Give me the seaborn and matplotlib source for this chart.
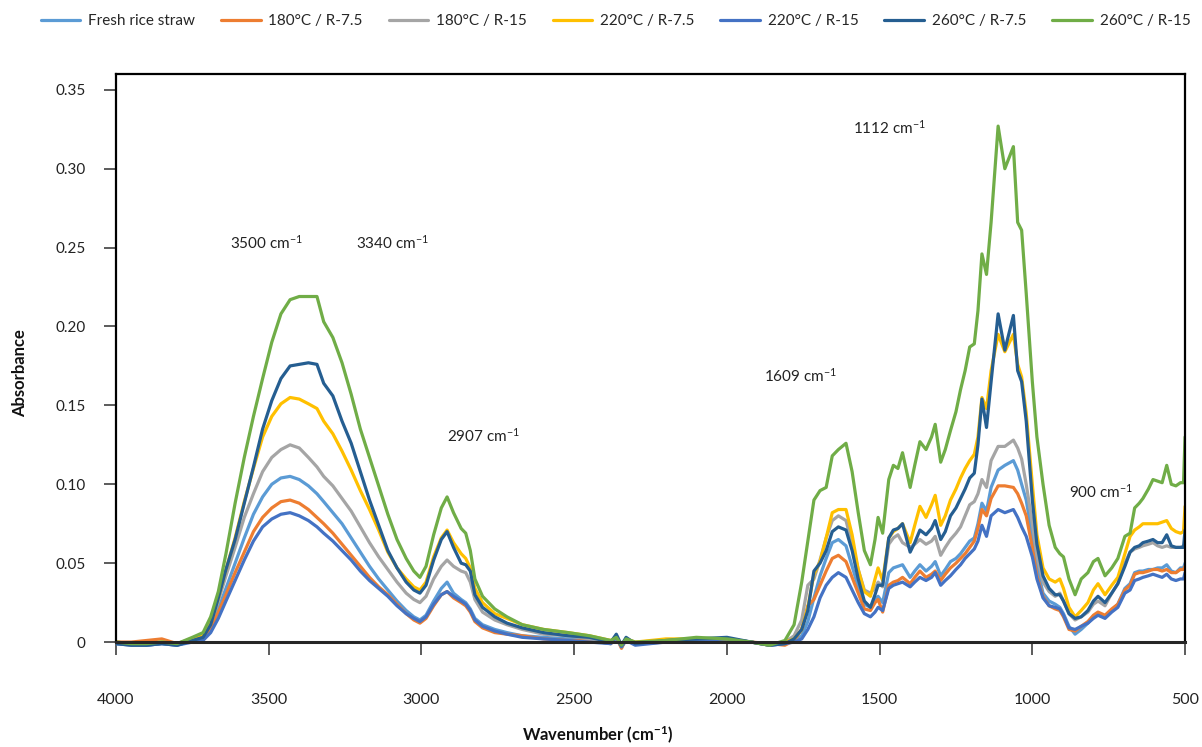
import matplotlib
matplotlib.use('Agg')
import matplotlib.pyplot as plt
import numpy as np
import pandas as pd
import seaborn as sns
from matplotlib.lines import Line2D
from matplotlib.ticker import FixedLocator, FuncFormatter

# wavenumber grid (cm-1)
wn = [4000, 3950, 3900, 3850, 3800, 3750,
      3715, 3690, 3665, 3640, 3610, 3580, 3550, 3520, 3490, 3460,
      3430, 3400, 3370, 3342, 3320, 3290, 3260, 3230, 3200, 3170, 3140, 3110, 3080, 3050, 3025, 3005,
      2985, 2960, 2935, 2916, 2895, 2870, 2855, 2840, 2825, 2800, 2760, 2720, 2670, 2600, 2520, 2450,
      2380, 2362, 2345, 2330, 2300, 2200, 2100, 2000, 1920, 1860, 1810,
      1780, 1755, 1735, 1715, 1695, 1675, 1655, 1635, 1610, 1590,
      1570, 1550, 1530, 1515, 1505, 1490, 1470, 1455, 1440, 1425,
      1400, 1385, 1368, 1348, 1330, 1318, 1300, 1285, 1268, 1250,
      1235, 1220, 1205, 1190, 1178, 1165, 1150, 1135, 1112, 1090,
      1062, 1048, 1035, 1020, 1000, 985, 965, 945, 925, 910,
      898, 880, 860, 840, 818, 800, 785, 762, 740, 720,
      697, 680, 665, 650, 638, 620, 605, 590, 575, 560,
      545, 530, 515, 505, 500]

fresh = [-0.001, -0.001, -0.002, -0.001, -0.002, 0.001,
         0.002, 0.009, 0.021, 0.034, 0.050, 0.066, 0.081, 0.092, 0.100, 0.104,
         0.105, 0.103, 0.099, 0.094, 0.089, 0.082, 0.075, 0.066, 0.057, 0.048, 0.040, 0.033, 0.026, 0.020, 0.016, 0.014,
         0.017, 0.026, 0.034, 0.038, 0.031, 0.027, 0.025, 0.021, 0.015, 0.011, 0.008, 0.006, 0.004, 0.003, 0.002, 0.001,
         -0.001, 0.004, -0.003, 0.002, -0.001, 0.000, 0.001, 0.002, 0.000, -0.002, -0.001,
         0.001, 0.004, 0.013, 0.028, 0.042, 0.053, 0.063, 0.065, 0.061, 0.048,
         0.035, 0.024, 0.022, 0.027, 0.029, 0.025, 0.044, 0.047, 0.048, 0.049,
         0.041, 0.045, 0.049, 0.045, 0.048, 0.051, 0.042, 0.046, 0.051, 0.053,
         0.056, 0.060, 0.064, 0.066, 0.075, 0.088, 0.083, 0.098, 0.109, 0.112,
         0.115, 0.109, 0.100, 0.090, 0.067, 0.048, 0.031, 0.026, 0.024, 0.022,
         0.018, 0.010, 0.005, 0.008, 0.012, 0.016, 0.018, 0.016, 0.020, 0.024,
         0.034, 0.037, 0.044, 0.045, 0.045, 0.046, 0.046, 0.047, 0.047, 0.049,
         0.045, 0.044, 0.047, 0.047, 0.050]

t180_r75 = [0.000, 0.000, 0.001, 0.002, -0.001, 0.002,
            0.003, 0.009, 0.019, 0.030, 0.044, 0.057, 0.070, 0.079, 0.085, 0.089,
            0.090, 0.088, 0.084, 0.079, 0.075, 0.069, 0.062, 0.055, 0.048, 0.041, 0.035, 0.030, 0.024, 0.018, 0.014, 0.012,
            0.015, 0.023, 0.030, 0.032, 0.028, 0.025, 0.023, 0.019, 0.013, 0.009, 0.006, 0.005, 0.004, 0.002, 0.001, 0.001,
            -0.001, 0.003, -0.004, 0.002, -0.001, 0.000, 0.001, 0.001, 0.000, -0.001, -0.002,
            0.001, 0.008, 0.023, 0.027, 0.036, 0.045, 0.053, 0.055, 0.051, 0.041,
            0.031, 0.021, 0.020, 0.025, 0.027, 0.019, 0.036, 0.038, 0.039, 0.041,
            0.037, 0.041, 0.045, 0.041, 0.043, 0.045, 0.039, 0.043, 0.047, 0.050,
            0.053, 0.056, 0.060, 0.064, 0.072, 0.084, 0.080, 0.091, 0.099, 0.099,
            0.098, 0.094, 0.088, 0.080, 0.060, 0.042, 0.029, 0.023, 0.021, 0.020,
            0.016, 0.008, 0.007, 0.010, 0.013, 0.017, 0.019, 0.017, 0.021, 0.024,
            0.033, 0.036, 0.043, 0.044, 0.044, 0.045, 0.046, 0.046, 0.045, 0.046,
            0.044, 0.044, 0.046, 0.046, 0.048]

t180_r15 = [0.000, -0.001, -0.001, 0.000, -0.001, 0.002,
            0.004, 0.012, 0.026, 0.042, 0.060, 0.079, 0.094, 0.108, 0.117, 0.122,
            0.125, 0.123, 0.117, 0.111, 0.105, 0.099, 0.091, 0.083, 0.073, 0.063, 0.054, 0.046, 0.038, 0.031, 0.027, 0.025,
            0.029, 0.040, 0.048, 0.052, 0.048, 0.045, 0.044, 0.038, 0.027, 0.019, 0.014, 0.011, 0.008, 0.005, 0.004, 0.002,
            0.000, 0.003, -0.003, 0.002, -0.001, 0.001, 0.002, 0.002, 0.000, -0.002, 0.000,
            0.004, 0.014, 0.036, 0.040, 0.052, 0.066, 0.077, 0.080, 0.077, 0.062,
            0.046, 0.033, 0.031, 0.034, 0.038, 0.035, 0.062, 0.066, 0.068, 0.063,
            0.060, 0.062, 0.065, 0.062, 0.064, 0.067, 0.055, 0.060, 0.065, 0.069,
            0.073, 0.080, 0.087, 0.089, 0.094, 0.103, 0.098, 0.115, 0.124, 0.124,
            0.128, 0.123, 0.116, 0.100, 0.075, 0.055, 0.038, 0.032, 0.029, 0.031,
            0.026, 0.018, 0.014, 0.016, 0.019, 0.024, 0.026, 0.023, 0.031, 0.037,
            0.050, 0.057, 0.059, 0.060, 0.061, 0.062, 0.063, 0.061, 0.060, 0.061,
            0.060, 0.060, 0.060, 0.061, 0.062]

t220_r75 = [0.000, -0.001, -0.001, 0.000, -0.001, 0.002,
            0.004, 0.012, 0.028, 0.046, 0.066, 0.089, 0.110, 0.130, 0.143, 0.151,
            0.155, 0.154, 0.151, 0.148, 0.140, 0.132, 0.121, 0.109, 0.096, 0.084, 0.071, 0.057, 0.047, 0.040, 0.035, 0.033,
            0.038, 0.054, 0.066, 0.071, 0.063, 0.056, 0.053, 0.047, 0.034, 0.025, 0.018, 0.015, 0.011, 0.008, 0.006, 0.004,
            0.001, 0.003, -0.002, 0.002, 0.000, 0.002, 0.002, 0.002, 0.000, -0.002, 0.000,
            0.002, 0.008, 0.022, 0.043, 0.051, 0.066, 0.082, 0.084, 0.084, 0.068,
            0.046, 0.032, 0.029, 0.040, 0.047, 0.039, 0.066, 0.070, 0.072, 0.075,
            0.063, 0.074, 0.086, 0.079, 0.087, 0.093, 0.074, 0.080, 0.090, 0.097,
            0.104, 0.110, 0.115, 0.119, 0.130, 0.155, 0.148, 0.172, 0.195, 0.184,
            0.195, 0.176, 0.168, 0.145, 0.100, 0.068, 0.047, 0.040, 0.038, 0.040,
            0.034, 0.022, 0.016, 0.020, 0.025, 0.033, 0.037, 0.030, 0.036, 0.041,
            0.056, 0.067, 0.071, 0.073, 0.075, 0.075, 0.075, 0.075, 0.076, 0.077,
            0.072, 0.070, 0.069, 0.070, 0.086]

t220_r15 = [-0.001, -0.002, -0.002, -0.001, -0.002, 0.000,
            0.001, 0.006, 0.015, 0.026, 0.039, 0.052, 0.064, 0.073, 0.078, 0.081,
            0.082, 0.080, 0.077, 0.073, 0.069, 0.064, 0.058, 0.052, 0.045, 0.039, 0.034, 0.029, 0.023, 0.018, 0.015, 0.013,
            0.016, 0.024, 0.030, 0.032, 0.029, 0.026, 0.024, 0.020, 0.014, 0.010, 0.007, 0.005, 0.003, 0.002, 0.001, 0.000,
            -0.001, 0.003, -0.003, 0.001, -0.002, 0.000, 0.001, 0.002, 0.000, -0.002, -0.001,
            0.000, 0.002, 0.008, 0.016, 0.028, 0.036, 0.041, 0.044, 0.041, 0.033,
            0.025, 0.018, 0.016, 0.019, 0.022, 0.020, 0.034, 0.036, 0.037, 0.038,
            0.035, 0.038, 0.041, 0.039, 0.041, 0.044, 0.036, 0.039, 0.042, 0.046,
            0.049, 0.053, 0.056, 0.059, 0.064, 0.074, 0.067, 0.080, 0.084, 0.082,
            0.084, 0.079, 0.073, 0.067, 0.054, 0.040, 0.028, 0.023, 0.022, 0.021,
            0.017, 0.009, 0.008, 0.010, 0.012, 0.015, 0.017, 0.015, 0.019, 0.022,
            0.031, 0.033, 0.039, 0.040, 0.041, 0.042, 0.043, 0.042, 0.041, 0.043,
            0.040, 0.039, 0.040, 0.040, 0.044]

t260_r75 = [-0.001, -0.002, -0.002, -0.001, -0.002, 0.001,
            0.003, 0.011, 0.028, 0.046, 0.065, 0.088, 0.111, 0.135, 0.153, 0.167,
            0.175, 0.176, 0.177, 0.176, 0.164, 0.156, 0.140, 0.126, 0.108, 0.090, 0.074, 0.058, 0.047, 0.038, 0.033, 0.031,
            0.036, 0.052, 0.065, 0.070, 0.060, 0.050, 0.049, 0.045, 0.030, 0.022, 0.016, 0.012, 0.009, 0.006, 0.004, 0.003,
            0.000, 0.005, -0.002, 0.003, -0.001, 0.001, 0.002, 0.003, 0.000, -0.002, -0.001,
            0.002, 0.008, 0.020, 0.045, 0.050, 0.058, 0.070, 0.073, 0.071, 0.058,
            0.040, 0.026, 0.022, 0.030, 0.036, 0.036, 0.066, 0.071, 0.072, 0.075,
            0.057, 0.063, 0.071, 0.068, 0.072, 0.077, 0.065, 0.070, 0.080, 0.085,
            0.091, 0.097, 0.104, 0.107, 0.125, 0.154, 0.136, 0.165, 0.208, 0.185,
            0.207, 0.172, 0.165, 0.140, 0.090, 0.062, 0.042, 0.034, 0.030, 0.030,
            0.026, 0.018, 0.015, 0.016, 0.020, 0.026, 0.029, 0.025, 0.031, 0.037,
            0.048, 0.057, 0.060, 0.061, 0.063, 0.064, 0.065, 0.063, 0.063, 0.068,
            0.061, 0.060, 0.060, 0.060, 0.071]

t260_r15 = [0.000, -0.001, -0.001, 0.000, -0.001, 0.003,
            0.006, 0.016, 0.032, 0.056, 0.088, 0.117, 0.143, 0.167, 0.190, 0.208,
            0.217, 0.219, 0.219, 0.219, 0.203, 0.193, 0.177, 0.157, 0.135, 0.117, 0.099, 0.081, 0.065, 0.053, 0.045, 0.041,
            0.048, 0.068, 0.085, 0.092, 0.082, 0.072, 0.069, 0.058, 0.040, 0.029, 0.021, 0.016, 0.011, 0.008, 0.006, 0.004,
            0.001, 0.003, -0.002, 0.002, 0.000, 0.001, 0.003, 0.002, 0.000, -0.002, 0.001,
            0.011, 0.038, 0.064, 0.090, 0.096, 0.098, 0.118, 0.122, 0.126, 0.108,
            0.082, 0.058, 0.049, 0.065, 0.079, 0.069, 0.103, 0.112, 0.110, 0.120,
            0.098, 0.112, 0.127, 0.122, 0.130, 0.138, 0.114, 0.122, 0.134, 0.146,
            0.160, 0.172, 0.187, 0.189, 0.210, 0.246, 0.233, 0.266, 0.327, 0.300,
            0.314, 0.266, 0.261, 0.221, 0.165, 0.130, 0.100, 0.074, 0.060, 0.056,
            0.054, 0.040, 0.030, 0.040, 0.044, 0.051, 0.053, 0.042, 0.047, 0.053,
            0.067, 0.069, 0.085, 0.088, 0.091, 0.097, 0.103, 0.102, 0.101, 0.112,
            0.100, 0.099, 0.101, 0.101, 0.130]

labels = ['Fresh rice straw', '180°C / R-7.5', '180°C / R-15', '220°C / R-7.5',
          '220°C / R-15', '260°C / R-7.5', '260°C / R-15']
colors = ['#5B9BD5', '#ED7D31', '#A5A5A5', '#FFC000', '#4472C4', '#255E91', '#70AD47']

# peak labels (text, wavenumber, absorbance)
peak_notes = [('3500 cm$^{-1}$', 3509, 0.253), ('3340 cm$^{-1}$', 3096, 0.253),
              ('2907 cm$^{-1}$', 2798, 0.131), ('1609 cm$^{-1}$', 1760, 0.169),
              ('1112 cm$^{-1}$', 1469, 0.326), ('900 cm$^{-1}$', 775, 0.095)]

y_ticks = [0, 0.05, 0.10, 0.15, 0.20, 0.25, 0.30, 0.35]
x_ticks = [4000, 3500, 3000, 2500, 2000, 1500, 1000, 500]

# long table for seaborn
series = [fresh, t180_r75, t180_r15, t220_r75, t220_r15, t260_r75, t260_r15]
frames = []
for lab, vals in zip(labels, series):
    frames.append(pd.DataFrame({'wn': wn, 'abs': vals, 'sample': lab}))
df = pd.concat(frames, ignore_index=True)

sns.set_style('white')
plt.rcParams['font.family'] = ['Lato', 'DejaVu Sans']
plt.rcParams['mathtext.default'] = 'regular'

fig = plt.figure(figsize=(12.02, 7.47), dpi=100)
ax = fig.add_axes([0.0965, 0.1278, 0.8894, 0.7731])

sns.lineplot(data=df, x='wn', y='abs', hue='sample', hue_order=labels,
             palette=colors, sort=False, estimator=None, lw=2.3, ax=ax, legend=False)

ax.set_xlim(4000, 500)
ax.set_ylim(-0.006, 0.36)
ax.set_xlabel('')
ax.set_ylabel('')

ax.yaxis.set_major_locator(FixedLocator(y_ticks))
ax.yaxis.set_major_formatter(FuncFormatter(lambda v, p: '0' if abs(v) < 1e-9 else f'{v:.2f}'))
ax.xaxis.set_major_locator(FixedLocator(x_ticks))

for side in ['left', 'right', 'top']:
    ax.spines[side].set_color('black')
    ax.spines[side].set_linewidth(1.6)
ax.spines['left'].set_bounds(0, 0.36)
ax.spines['right'].set_bounds(0, 0.36)
ax.spines['bottom'].set_position(('data', 0))
ax.spines['bottom'].set_color('#262626')
ax.spines['bottom'].set_linewidth(2.2)

ax.tick_params(axis='y', direction='out', length=9, width=1.2, color='#404040',
               labelsize=11, labelcolor='#222222', pad=13, left=True)
ax.tick_params(axis='x', direction='out', length=9, width=1.2, color='#404040',
               labelsize=11.5, labelcolor='#222222', pad=28, bottom=True)

for txt, x, y in peak_notes:
    ax.text(x, y, txt, ha='center', va='center', fontsize=11, color='#222222')

fig.text(0.017, 0.5, 'Absorbance', rotation=90, ha='center', va='center',
         fontsize=12, fontweight='bold', color='#111111')
fig.text(0.497, 0.016, 'Wavenumber (cm$^{-1}$)', ha='center', va='center',
         fontsize=12, fontweight='bold', color='#111111')

handles = [Line2D([0], [0], color=c, lw=2.3) for c in colors]
fig.legend(handles, labels, loc='center', bbox_to_anchor=(0.512, 0.972), ncol=7,
           frameon=False, fontsize=11, handlelength=2.6, columnspacing=1.7,
           handletextpad=0.5)

fig.savefig('out.png', dpi=100)
